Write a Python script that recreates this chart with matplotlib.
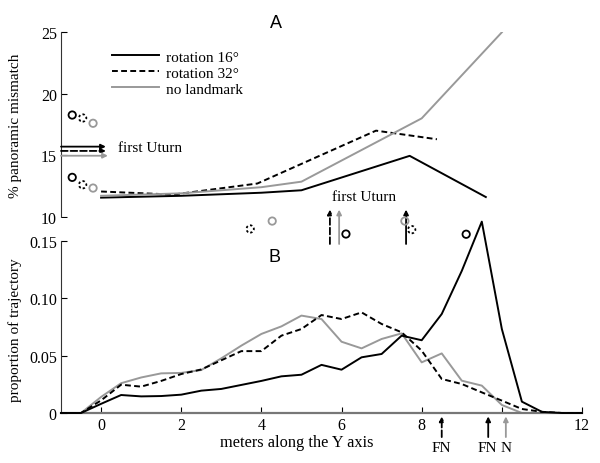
import numpy as np
import matplotlib
matplotlib.use("Agg")
import matplotlib.pyplot as plt

plt.rcParams['font.family'] = ['Liberation Serif', 'DejaVu Serif']

# ---- panel A: panoramic mismatch ----
a_black_x = [0, 2, 4, 5, 7.7, 9.6]
a_black_y = [11.55, 11.7, 11.95, 12.15, 14.95, 11.6]
a_dash_x = [0, 1.8, 3.9, 6.86, 8.38]
a_dash_y = [12.05, 11.8, 12.7, 17.0, 16.3]
a_gray_x = [0, 2, 4, 5, 8, 10]
a_gray_y = [11.7, 11.9, 12.4, 12.85, 18.0, 25.0]

# circles at left of panel A (upper and lower row)
a_circ_x = [-0.72, -0.46, -0.2]
a_circ_up = [18.27, 18.03, 17.6]
a_circ_lo = [13.2, 12.6, 12.33]
# first Uturn horizontal arrows
uturn_a_y = [15.7, 15.35, 14.96]
uturn_a_end = [0.12, 0.12, 0.17]

# ---- panel B: proportion of trajectory ----
b_x = np.arange(-1, 12.01, 0.5)
b_black = [0, 0, 0.008, 0.0157, 0.0145, 0.0148, 0.016, 0.0195, 0.021, 0.0245,
           0.028, 0.032, 0.0334, 0.042, 0.0378, 0.0486, 0.0515, 0.0675, 0.0635,
           0.0864, 0.124, 0.167, 0.0733, 0.0099, 0.001, 0, 0]
b_dash = [0, 0, 0.011, 0.0247, 0.023, 0.028, 0.034, 0.038, 0.046, 0.054,
          0.054, 0.0675, 0.0733, 0.0855, 0.082, 0.0878, 0.0777, 0.0704, 0.0544,
          0.0297, 0.0253, 0.018, 0.0108, 0.0035, 0.001, 0, 0]
b_gray = [0, 0, 0.014, 0.026, 0.031, 0.0346, 0.035, 0.0375, 0.0477, 0.0588,
          0.069, 0.0756, 0.085, 0.082, 0.0622, 0.0564, 0.0646, 0.0695, 0.0442,
          0.052, 0.0282, 0.0239, 0.007, 0, 0, 0, 0]

# circles between panels: (x, y, style)
b_circles = [(3.72, 0.1606, 'dot'), (4.27, 0.1675, 'gray'), (6.11, 0.1562, 'black'),
             (7.58, 0.1675, 'gray'), (7.75, 0.160, 'dot'), (9.11, 0.156, 'black')]
# vertical "first Uturn" arrows
uturn_b_x = [5.71, 5.94, 7.61]
uturn_b_style = ['dash', 'gray', 'black']
# arrows below x axis
fn_x = [8.5, 9.66, 10.1]
fn_style = ['dash', 'black', 'gray']
fn_text = [(8.5, 'FN'), (9.63, 'FN'), (10.1, 'N')]

GRAY = '#999999'
LW = 1.4
DASH = (0, (3.0, 1.7))
styles = {'black': dict(color='k', ls='-'),
          'dash': dict(color='k', ls='--'),
          'gray': dict(color=GRAY, ls='-'),
          'dot': dict(color='k', ls=(0, (1.3, 1.3)))}

fig = plt.figure(figsize=(6, 4.64), dpi=100)
axA = fig.add_axes([61/600, 1-217.7/464, 521/600, 184.4/464])
axB = fig.add_axes([61/600, 1-414/464, 521/600, (414-219.2)/464])

# panel A
axA.plot(a_black_x, a_black_y, color='k', lw=LW, label='rotation 16°')
axA.plot(a_dash_x, a_dash_y, color='k', lw=LW, ls=DASH, label='rotation 32°')
axA.plot(a_gray_x, a_gray_y, color=GRAY, lw=LW, label='no landmark')
axA.set_xlim(-1, 12)
axA.set_ylim(10, 25)
for s in ['top', 'right', 'bottom']:
    axA.spines[s].set_visible(False)
axA.spines['left'].set_color('#333333')
axA.set_xticks([])
axA.set_yticks([10, 15, 20, 25])
axA.tick_params(axis='y', direction='in', length=4, labelsize=11.5, pad=3)
axA.set_ylabel('% panoramic mismatch', fontsize=11)
axA.yaxis.set_label_coords(-0.075, 0.5)

for yv in [a_circ_up, a_circ_lo]:
    for xi, yi, key in zip(a_circ_x, yv, ['black', 'dot', 'gray']):
        c = styles[key]
        axA.scatter([xi], [yi], s=28, facecolors='none', edgecolors=c['color'],
                    linewidths=1.3, linestyle=c['ls'], clip_on=False, zorder=3)

for yi, xe, key in zip(uturn_a_y, uturn_a_end, ['black', 'dash', 'gray']):
    c = styles[key]
    axA.annotate('', xy=(xe, yi), xytext=(-1, yi), annotation_clip=False,
                 arrowprops=dict(arrowstyle='-|>', color=c['color'], lw=1.3,
                                 ls=c['ls'], mutation_scale=7, shrinkA=0, shrinkB=0))
axA.text(0.42, 15.6, 'first Uturn', fontsize=11, va='center', ha='left')

axA.legend(loc='upper left', bbox_to_anchor=(112/600, 1-51/464),
           bbox_transform=fig.transFigure, frameon=False, fontsize=11,
           handlelength=3.1, handletextpad=0.45, labelspacing=0.15,
           borderpad=0, borderaxespad=0)
fig.text(276/600, 1-23/464, 'A', fontsize=13, family='Liberation Sans',
         ha='center', va='center')

# panel B
axB.plot(b_x, b_black, color='k', lw=LW, clip_on=False, zorder=3)
axB.plot(b_x, b_dash, color='k', lw=LW, ls=DASH, zorder=3)
axB.plot(b_x, b_gray, color=GRAY, lw=LW, zorder=2)
axB.set_xlim(-1, 12)
axB.set_ylim(0, 0.17)
for s in ['top', 'right']:
    axB.spines[s].set_visible(False)
axB.spines['left'].set_bounds(0, 0.15)
axB.spines['left'].set_color('#333333')
axB.spines['bottom'].set_color('#777777')
axB.spines['bottom'].set_linewidth(1.6)
axB.set_xticks([0, 2, 4, 6, 8, 10, 12])
axB.set_xticklabels(['0', '2', '4', '6', '8', '', '12'])
axB.set_yticks([0, 0.05, 0.10, 0.15])
axB.set_yticklabels(['0', '0.05', '0.10', '0.15'])
axB.tick_params(direction='in', length=4, labelsize=11.5, pad=3)
axB.set_ylabel('proportion of trajectory', fontsize=11)
axB.yaxis.set_label_coords(-0.075, 0.43)
axB.set_xlabel('meters along the Y axis', fontsize=11.8)
axB.xaxis.set_label_coords(0.452, -0.149)
axB.xaxis.label.set_verticalalignment('center')
fig.text(275/600, 1-257/464, 'B', fontsize=13, family='Liberation Sans',
         ha='center', va='center')

for xi, yi, key in b_circles:
    c = styles[key]
    axB.scatter([xi], [yi], s=28, facecolors='none', edgecolors=c['color'],
                linewidths=1.3, linestyle=c['ls'], clip_on=False, zorder=4)

for xi, key in zip(uturn_b_x, uturn_b_style):
    c = styles[key]
    axB.annotate('', xy=(xi, 0.1775), xytext=(xi, 0.1475), annotation_clip=False,
                 arrowprops=dict(arrowstyle='-|>', color=c['color'], lw=1.3,
                                 ls=c['ls'], mutation_scale=7, shrinkA=0, shrinkB=0))
axB.text(6.55, 0.189, 'first Uturn', fontsize=11, ha='center', va='center')

for xi, key in zip(fn_x, fn_style):
    c = styles[key]
    axB.annotate('', xy=(xi, -0.003), xytext=(xi, -0.021), annotation_clip=False,
                 arrowprops=dict(arrowstyle='-|>', color=c['color'], lw=1.3,
                                 ls=c['ls'], mutation_scale=7, shrinkA=0, shrinkB=0))
for xi, t in fn_text:
    axB.text(xi, -0.030, t, fontsize=11, ha='center', va='center')

fig.savefig('out.png', dpi=100)
